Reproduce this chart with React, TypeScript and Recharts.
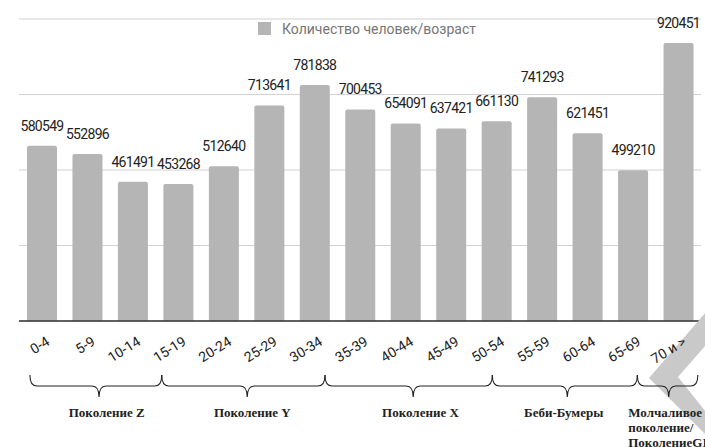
import { BarChart, Bar, XAxis, YAxis, CartesianGrid, LabelList } from 'recharts';

const categories = ['0-4', '5-9', '10-14', '15-19', '20-24', '25-29', '30-34', '35-39', '40-44', '45-49', '50-54', '55-59', '60-64', '65-69', '70 и >'];
const population = [580549, 552896, 461491, 453268, 512640, 713641, 781838, 700453, 654091, 637421, 661130, 741293, 621451, 499210, 920451];
const yTicks = [0, 250000, 500000, 750000, 1000000];

// generation groups, spans given in category index units (brace is hand drawn, not band aligned)
const groupNames = [['Поколение Z'], ['Поколение Y'], ['Поколение X'], ['Беби-Бумеры'], ['Молчаливое', 'поколение/', 'ПоколениеGI']];
const groupStart = [-0.26, 2.64, 6.23, 9.91, 13.1];
const groupEnd = [2.64, 6.23, 9.91, 13.1, 14.43];
const groupTip = [1.26, 4.52, 8.17, 11.56, 13.79];
const groupLabelAt = [1.43, 4.63, 8.33, 11.48, 12.9];

const legendLabel = 'Количество человек/возраст';

const W = 705;
const H = 447;
const margin = { top: 19, right: 4, left: 19, bottom: 0 };
const baseline = 321;
const plotWidth = W - margin.left - margin.right;
const band = plotWidth / categories.length;
const xAt = (i: number) => margin.left + band * (i + 0.5);

const data = categories.map((c, i) => ({ age: c, value: population[i] }));

const font = 'Roboto, "Noto Sans", sans-serif';

function ValueLabel(props: any) {
  const { x, y, width, value } = props;
  return (
    <text x={x + width / 2} y={y - 15} textAnchor="middle" fontSize={14} letterSpacing={-0.7} fontFamily={font} fill="#222">
      {value}
    </text>
  );
}

function bracePath(x0: number, x1: number, tip: number) {
  const yTop = 375;
  const yMid = 386;
  const yTip = 397;
  const r = 7;
  return `M ${x0} ${yTop} Q ${x0} ${yMid} ${x0 + r} ${yMid} L ${tip - r} ${yMid} Q ${tip} ${yMid} ${tip} ${yTip} Q ${tip} ${yMid} ${tip + r} ${yMid} L ${x1 - r} ${yMid} Q ${x1} ${yMid} ${x1} ${yTop}`;
}

export default function App() {
  return (
    <div style={{ position: 'absolute', left: 0, top: 0, width: W, height: H, background: '#fff', overflow: 'hidden' }}>
      <BarChart width={W} height={H} data={data} margin={margin}>
        <CartesianGrid vertical={false} stroke="#d2d2d2" strokeWidth={1.2} />
        <YAxis hide domain={[0, 1000000]} ticks={yTicks} />
        <XAxis
          dataKey="age"
          height={H - baseline}
          interval={0}
          tickLine={false}
          tick={false}
          axisLine={{ stroke: '#333', strokeWidth: 1.5 }}
        />
        <Bar dataKey="value" fill="#b5b5b5" barSize={30} radius={[2, 2, 0, 0]} isAnimationActive={false}>
          <LabelList dataKey="value" content={<ValueLabel />} />
        </Bar>
      </BarChart>
      <svg width={W} height={H} style={{ position: 'absolute', left: 0, top: 0, pointerEvents: 'none' }}>
        {/* grey chevron watermark in the lower right corner */}
        <polygon points="725,290 649,378 719,448 735,448 678,377 754,290" fill="#c9c9c9" />
        {/* slanted age labels under each band */}
        {categories.map((c, i) => {
          const ex = xAt(i) + 9;
          const ey = baseline + 23;
          return (
            <text
              key={c}
              x={ex}
              y={ey}
              textAnchor="end"
              fontSize={14}
              fontFamily={font}
              fill="#222"
              transform={`rotate(-32 ${ex} ${ey})`}
            >
              {c}
            </text>
          );
        })}
        <rect x={258} y={22} width={13} height={13} fill="#b5b5b5" />
        <text x={282} y={34} fontSize={14} fontFamily={font} fill="#757575">
          {legendLabel}
        </text>
        {groupNames.map((lines, g) => {
          const multi = lines.length > 1;
          return (
            <g key={g}>
              <path d={bracePath(xAt(groupStart[g]), xAt(groupEnd[g]), xAt(groupTip[g]))} fill="none" stroke="#222" strokeWidth={1.1} />
              {lines.map((t, k) => (
                <text
                  key={k}
                  x={xAt(groupLabelAt[g])}
                  y={417 + k * 15}
                  textAnchor={multi ? 'start' : 'middle'}
                  fontSize={13}
                  fontWeight="bold"
                  fontFamily='"Liberation Serif", "DejaVu Serif", serif'
                  fill="#222"
                >
                  {t}
                </text>
              ))}
            </g>
          );
        })}
      </svg>
    </div>
  );
}
